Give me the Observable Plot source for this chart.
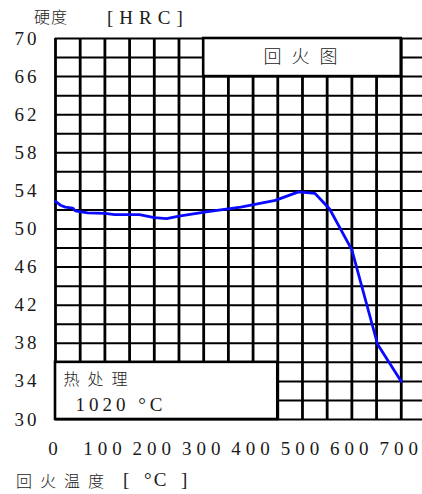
<!DOCTYPE html>
<html>
<head>
<meta charset="utf-8">
<script src="https://cdn.jsdelivr.net/npm/d3@7"></script>
<script src="https://cdn.jsdelivr.net/npm/@observablehq/plot@0.6"></script>
<style>
  body { margin: 0; background: white; }
  #wrap { position: relative; width: 422px; height: 494px; overflow: hidden; }
  .cjk { font-family: "Noto Sans CJK SC", sans-serif; font-weight: 300; color: #1a1a1a; position: absolute; white-space: pre; }
  .ser { font-family: "Liberation Serif", "Times New Roman", serif; color: #1a1a1a; position: absolute; white-space: pre; }
  #chart { position: absolute; left: 0; top: 30px; }
  #chart text { font-family: "Liberation Serif", "Times New Roman", "Noto Sans CJK SC", serif; }
  #chart g[aria-label="x-axis tick label"] text { letter-spacing: 5px; }
  #chart g[aria-label="y-axis tick label"] text { letter-spacing: 3px; }
  #chart .boxlabel text { letter-spacing: 10px; font-family: "Noto Sans CJK SC", sans-serif; }
  #chart .heat text { letter-spacing: 8px; font-family: "Noto Sans CJK SC", sans-serif; }
  #chart .temp text { letter-spacing: 4px; }
</style>
</head>
<body>
<div id="wrap">
  <div class="cjk" style="left:34px;top:3px;font-size:16px;letter-spacing:1px;line-height:26px;">硬度</div>
  <div class="ser" style="left:107px;top:5px;font-size:19px;letter-spacing:6px;line-height:26px;">[HRC]</div>
  <div id="chart"></div>
  <div class="cjk" style="left:16px;top:467px;font-size:16px;letter-spacing:8px;line-height:26px;">回火温度</div>
  <div class="ser" style="left:123px;top:467px;font-size:19px;letter-spacing:2px;word-spacing:6px;line-height:26px;">[ °C ]</div>
</div>
<script>
// Tempering curve (温度 °C → 硬度 HRC)
const temps    = [0, 10, 20, 35, 40, 65, 100, 120, 170, 200, 225, 250, 305, 375, 445, 492, 525, 555, 600, 652, 700];
const hardness = [52.9, 52.5, 52.3, 52.2, 51.9, 51.7, 51.65, 51.5, 51.5, 51.2, 51.1, 51.35, 51.8, 52.3, 53.0, 53.9, 53.75, 52.1, 47.8, 37.9, 34.0];

// Axis tick labels
const xTicks = [0, 100, 200, 300, 400, 500, 600, 700];
const yTicks = [30, 34, 38, 42, 46, 50, 54, 58, 62, 66, 70];

// Annotation boxes (data units)
const boxX1 = [300, 0];
const boxX2 = [700, 450];
const boxY1 = [66, 30];
const boxY2 = [70, 36];
const boxTitle = "回火图";
const heatLabel = "热处理";
const heatTemp = "1020 °C";

const curve = temps.map((t, i) => ({t, h: hardness[i]}));
const boxes = boxX1.map((x1, i) => ({x1, x2: boxX2[i], y1: boxY1[i], y2: boxY2[i]}));
const topBox = boxes[0], heatBox = boxes[1];

const chart = Plot.plot({
  width: 422,
  height: 428,
  marginTop: 8,
  marginLeft: 55,
  marginRight: 0,
  marginBottom: 39,
  x: {domain: [0, 743]},
  y: {domain: [30, 70]},
  style: {fontSize: "19px", color: "#1a1a1a", background: "white", overflow: "visible"},
  marks: [
    Plot.ruleY(d3.range(30, 71, 2), {stroke: "black", strokeWidth: 2}),
    Plot.ruleX(d3.range(0, 701, 50), {stroke: "black", strokeWidth: 2.8}),
    Plot.rect(boxes, {x1: "x1", x2: "x2", y1: "y1", y2: "y2", fill: "white", stroke: "black", strokeWidth: 2.6}),
    Plot.text([topBox], {
      x: d => (d.x1 + d.x2) / 2, y: d => (d.y1 + d.y2) / 2, text: () => boxTitle,
      fontWeight: 300, fontSize: 18, dx: 3, className: "boxlabel", fill: "#1a1a1a"
    }),
    Plot.text([heatBox], {
      x: "x1", y: "y2", text: () => heatLabel, textAnchor: "start", dx: 8, dy: 18,
      fontWeight: 300, fontSize: 16, className: "heat", fill: "#1a1a1a"
    }),
    Plot.text([heatBox], {
      x: "x1", y: "y2", text: () => heatTemp, textAnchor: "start", dx: 20, dy: 43,
      fontSize: 19, className: "temp", fill: "#1a1a1a"
    }),
    Plot.line(curve, {x: "t", y: "h", stroke: "#0a0aff", strokeWidth: 2.8}),
    Plot.axisX(xTicks, {tickSize: 0, tickPadding: 22, label: null, fontSize: 19}),
    Plot.axisY(yTicks, {tickSize: 0, tickPadding: 16, label: null, fontSize: 19})
  ]
});
document.getElementById("chart").appendChild(chart);
</script>
</body>
</html>
